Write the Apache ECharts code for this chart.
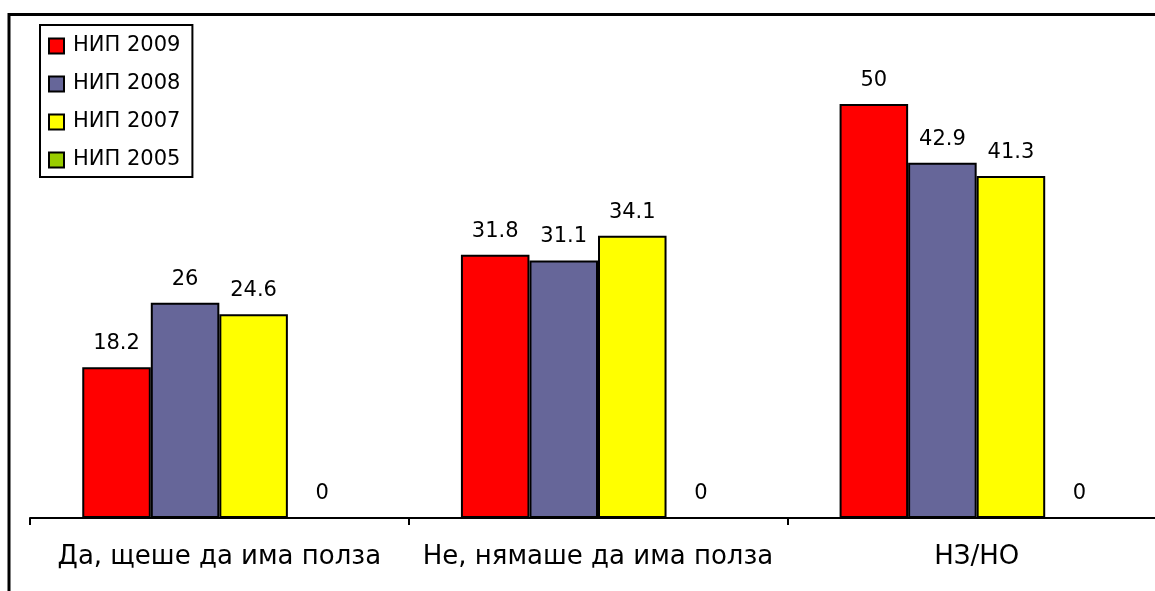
<!DOCTYPE html>
<html>
<head>
<meta charset="utf-8">
<script src="https://cdn.jsdelivr.net/npm/echarts@6/dist/echarts.min.js"></script>
<style>
  html, body { margin: 0; padding: 0; background: #fff; }
  #chart { width: 1155px; height: 591px; }
</style>
</head>
<body>
<div id="chart"></div>
<script>
const categories = ['Да, щеше да има полза', 'Не, нямаше да има полза', 'НЗ/НО'];
const seriesNames = ['НИП 2009', 'НИП 2008', 'НИП 2007', 'НИП 2005'];
const nip2009 = [18.2, 31.8, 50];
const nip2008 = [26, 31.1, 42.9];
const nip2007 = [24.6, 34.1, 41.3];
const nip2005 = [0, 0, 0];
const seriesColors = ['#FF0000', '#666699', '#FFFF00', '#99CC00'];

const FONT = 'DejaVu Sans';
const dataSets = [nip2009, nip2008, nip2007, nip2005];

const chart = echarts.init(document.getElementById('chart'), null, { renderer: 'canvas' });
chart.setOption({
  animation: false,
  backgroundColor: '#ffffff',
  textStyle: { fontFamily: FONT, color: '#000' },
  grid: { left: 30, top: 21.2, width: 1136, height: 496.8, containLabel: false, outerBoundsMode: 'none' },
  legend: {
    orient: 'vertical',
    left: 40,
    top: 25,
    padding: [9, 12, 5, 8],
    itemWidth: 15,
    itemHeight: 15,
    itemGap: 14,
    borderColor: '#000',
    borderWidth: 2,
    backgroundColor: '#fff',
    icon: 'rect',
    textStyle: { fontFamily: FONT, fontSize: 21, color: '#000', lineHeight: 24, padding: [0, 0, 0, 4] },
    data: seriesNames
  },
  xAxis: {
    type: 'category',
    data: categories,
    axisLine: { lineStyle: { color: '#000', width: 2 } },
    axisTick: { show: true, length: 7, lineStyle: { color: '#000', width: 2 } },
    axisLabel: { fontFamily: FONT, fontSize: 26, color: '#000', margin: 26, interval: 0 },
    splitLine: { show: false }
  },
  yAxis: {
    type: 'value',
    min: 0,
    max: 60,
    show: false,
    splitLine: { show: false }
  },
  series: seriesNames.map((name, i) => ({
    name: name,
    type: 'bar',
    data: dataSets[i],
    barGap: '0%',
    barCategoryGap: '27.6%',
    itemStyle: { color: seriesColors[i], borderColor: '#000', borderWidth: 2 },
    label: {
      show: true,
      position: 'top',
      distance: 13,
      fontFamily: FONT,
      fontSize: 21,
      color: '#000'
    }
  })),
  graphic: [{
    type: 'polyline',
    shape: { points: [[9, 591], [9, 14.5], [1155, 14.5]] },
    style: { stroke: '#000', lineWidth: 3, fill: null },
    z: 100
  }]
});
</script>
</body>
</html>
